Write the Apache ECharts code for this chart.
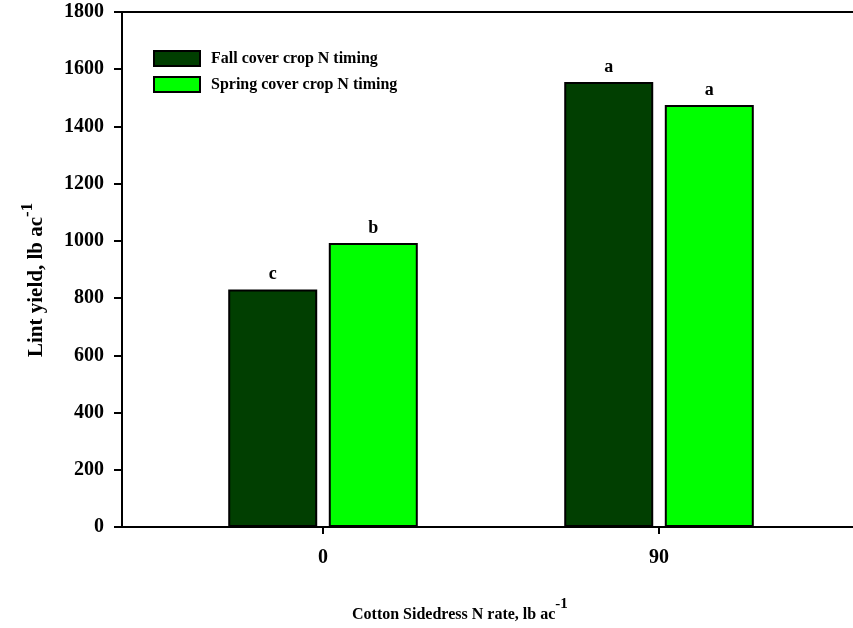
<!DOCTYPE html>
<html>
<head>
<meta charset="utf-8">
<script src="https://cdn.jsdelivr.net/npm/echarts@6/dist/echarts.min.js"></script>
<style>html,body{margin:0;padding:0;background:#fff}#c{width:853px;height:628px}</style>
</head>
<body>
<div id="c"></div>
<script>
const rates = [0, 90];
const fallYield = [830, 1555];
const springYield = [993, 1475];
const fallLetters = ['c', 'a'];
const springLetters = ['b', 'a'];
const seriesNames = ['Fall cover crop N timing', 'Spring cover crop N timing'];
const yTicks = [0, 200, 400, 600, 800, 1000, 1200, 1400, 1600, 1800];

const FONT = '"Liberation Serif", "Times New Roman", serif';
const chart = echarts.init(document.getElementById('c'), null, {renderer: 'canvas'});

function pairs(vals) { return rates.map((r, i) => [r, vals[i]]); }

const labelStyle = (letters) => ({
  show: true, position: 'top', distance: 6,
  formatter: p => letters[p.dataIndex],
  fontFamily: FONT, fontWeight: 'bold', fontSize: 18, color: '#000'
});

const X_MIN = -53.84, X_MAX = 141.96;

chart.setOption({
  animation: false,
  backgroundColor: '#fff',
  grid: {left: 122, right: 0, top: 12, bottom: 101, show: false, containLabel: false},
  legend: {
    orient: 'vertical', left: 153, top: 50, padding: 0, itemWidth: 46, itemHeight: 15, itemGap: 9,
    data: seriesNames, icon: 'rect',
    textStyle: {fontFamily: FONT, fontWeight: 'bold', fontSize: 16, color: '#000', padding: [0, 0, 0, 6], lineHeight: 17}
  },
  xAxis: [{
    type: 'value', min: X_MIN, max: X_MAX, position: 'bottom',
    axisLine: {show: true, onZero: false, lineStyle: {color: '#000', width: 2}},
    axisTick: {show: true, length: 7, customValues: rates, lineStyle: {color: '#000', width: 2}},
    axisLabel: {customValues: rates, margin: 21, fontFamily: FONT, fontWeight: 'bold', fontSize: 20, color: '#000'},
    splitLine: {show: false}
  }, {
    type: 'value', min: X_MIN, max: X_MAX, position: 'top',
    axisLine: {show: true, onZero: false, lineStyle: {color: '#000', width: 2}},
    axisTick: {show: false}, axisLabel: {show: false}, splitLine: {show: false}
  }],
  yAxis: {
    type: 'value', min: 0, max: 1800, interval: 200,
    axisLine: {show: true, onZero: false, lineStyle: {color: '#000', width: 2}},
    axisTick: {show: true, length: 8, lineStyle: {color: '#000', width: 2}},
    axisLabel: {margin: 18, fontFamily: FONT, fontWeight: 'bold', fontSize: 20, color: '#000',
      formatter: v => yTicks.includes(v) ? String(v) : ''},
    splitLine: {show: false}
  },
  series: [
    {name: seriesNames[0], type: 'bar', data: pairs(fallYield), barWidth: 89, barGap: '13%',
      itemStyle: {color: '#013f01', borderColor: '#000', borderWidth: 2}, label: labelStyle(fallLetters)},
    {name: seriesNames[1], type: 'bar', data: pairs(springYield), barWidth: 89, barGap: '13%',
      itemStyle: {color: '#00ff00', borderColor: '#000', borderWidth: 2}, label: labelStyle(springLetters)}
  ],
  graphic: [
    {type: 'text', left: 352, top: 597, style: {
      text: '{m|Cotton Sidedress N rate, lb ac}{s|-1}',
      rich: {
        m: {fontFamily: FONT, fontWeight: 'bold', fontSize: 16, color: '#000', lineHeight: 26, verticalAlign: 'bottom'},
        s: {fontFamily: FONT, fontWeight: 'bold', fontSize: 15, color: '#000', lineHeight: 26, verticalAlign: 'top'}
      }}},
    {type: 'text', x: 19, y: 357, rotation: Math.PI / 2, style: {
      text: '{m|Lint yield, lb ac}{s|-1}',
      rich: {
        m: {fontFamily: FONT, fontWeight: 'bold', fontSize: 21, color: '#000', lineHeight: 28, verticalAlign: 'bottom'},
        s: {fontFamily: FONT, fontWeight: 'bold', fontSize: 17, color: '#000', lineHeight: 28, verticalAlign: 'top'}
      }}}
  ]
});
</script>
</body>
</html>
